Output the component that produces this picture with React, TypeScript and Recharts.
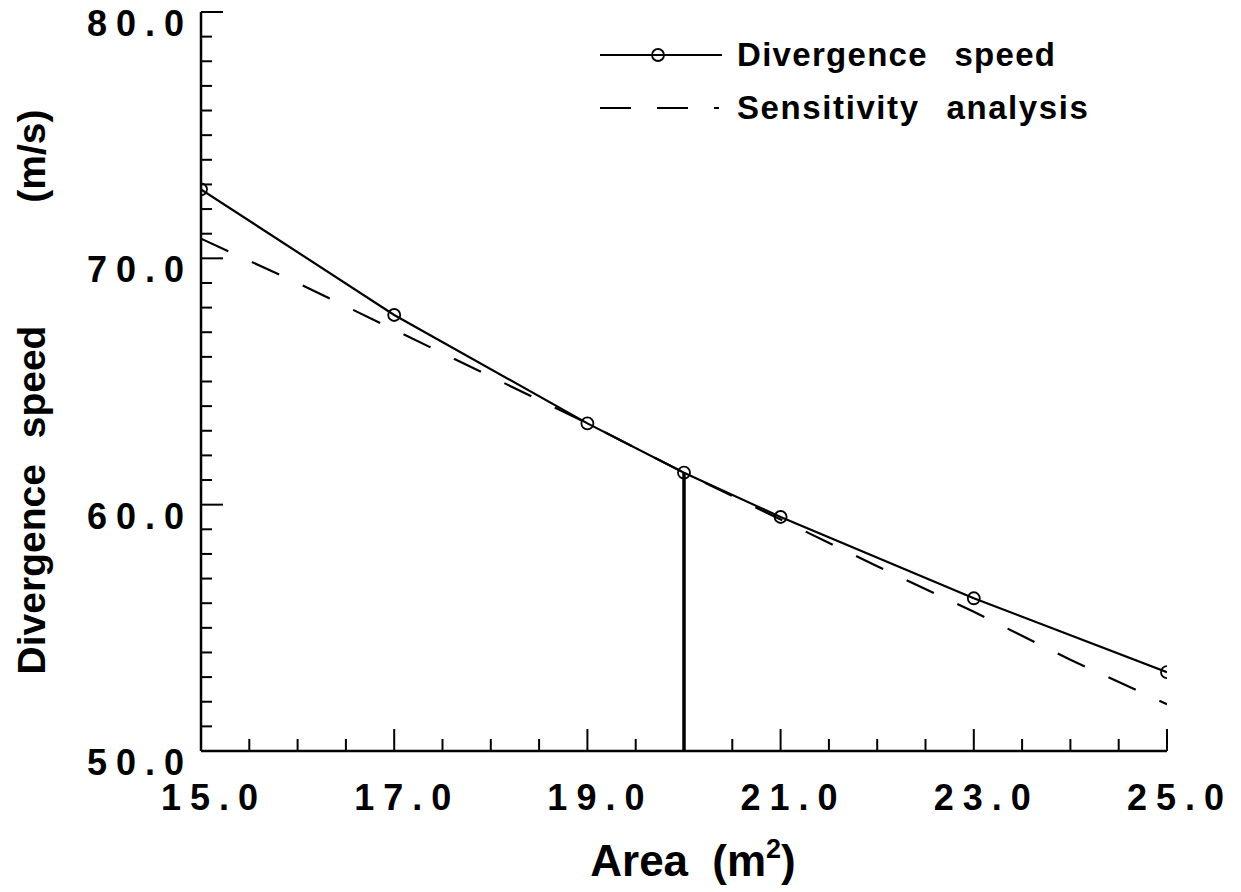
import React from "react";
import { LineChart, Line, XAxis, YAxis, Legend } from "recharts";

// divergence speed (m/s) vs. area (m^2)
const areas = [15, 17, 19, 20, 21, 23, 25];
const divergenceSpeed = [72.8, 67.7, 63.3, 61.3, 59.5, 56.2, 53.2];

// sensitivity analysis estimate
const sensAreas = [15, 16, 17, 18, 19, 20, 21, 22, 23, 24, 25];
const sensitivity = [70.8, 69.0, 67.1, 65.2, 63.3, 61.3, 59.4, 57.5, 55.65, 53.7, 51.9];

// drop line at the design area
const dropAreas = [20, 20];
const dropSpeed = [50, 61.3];

const xTicks = [15, 15.5, 16, 16.5, 17, 17.5, 18, 18.5, 19, 19.5, 20, 20.5, 21, 21.5, 22, 22.5, 23, 23.5, 24, 24.5, 25];
const xLabels = [15, 17, 19, 21, 23, 25];
const yTicks = [50, 51, 52, 53, 54, 55, 56, 57, 58, 59, 60, 61, 62, 63, 64, 65, 66, 67, 68, 69, 70, 71, 72, 73, 74, 75, 76, 77, 78, 79, 80];
const yLabels = [50, 60, 70, 80];

const FONT = '"Liberation Sans", Arial, Helvetica, sans-serif';

const divData = areas.map((a, i) => ({ x: a, y: divergenceSpeed[i] }));
const sensData = sensAreas.map((a, i) => ({ x: a, y: sensitivity[i] }));
const dropData = dropAreas.map((a, i) => ({ x: a, y: dropSpeed[i] }));

const XTick = (props: any) => {
  const { x, y, payload } = props;
  const major = xLabels.includes(payload.value);
  return (
    <g>
      <line x1={x} y1={y} x2={x} y2={y - (major ? 22 : 12)} stroke="#000" strokeWidth={2} />
      {major && (
        <text x={x + 13} y={y + 59} textAnchor="middle" fontFamily={FONT} fontWeight="bold" fontSize={36} letterSpacing={9} fill="#000">
          {payload.value.toFixed(1)}
        </text>
      )}
    </g>
  );
};

const YTick = (props: any) => {
  const { x, y, payload } = props;
  const major = yLabels.includes(payload.value);
  return (
    <g>
      <line x1={x} y1={y} x2={x + (major ? 22 : 11)} y2={y} stroke="#000" strokeWidth={2} />
      {major && (
        <text x={x - 8} y={y + 24} textAnchor="end" fontFamily={FONT} fontWeight="bold" fontSize={36} letterSpacing={9} fill="#000">
          {payload.value.toFixed(1)}
        </text>
      )}
    </g>
  );
};

const YTitle = () => (
  <text x={37} y={392} transform="rotate(-90, 37, 392)" textAnchor="middle" fontFamily={FONT} fontWeight="bold" fontSize={39} fill="#000">
    <tspan>Divergence</tspan>
    <tspan dx={15}> speed</tspan>
    <tspan dx={112}> (m/s)</tspan>
  </text>
);

const XTitle = () => (
  <text x={685} y={876} textAnchor="middle" fontFamily={FONT} fontWeight="bold" fontSize={44} fill="#000">
    <tspan>Area</tspan>
    <tspan dx={12}> (m</tspan>
    <tspan fontSize={27} dy={-18}>2</tspan>
    <tspan dy={18}>)</tspan>
  </text>
);

const renderLegend = () => (
  <svg width={560} height={120} style={{ display: "block" }}>
    <line x1={2} y1={37} x2={124} y2={37} stroke="#000" strokeWidth={2.2} />
    <circle cx={60} cy={37} r={6} fill="none" stroke="#000" strokeWidth={1.8} />
    <text x={139} y={48} fontFamily={FONT} fontWeight="bold" fontSize={33} letterSpacing={1.3} fill="#000">
      Divergence<tspan dx={16}> speed</tspan>
    </text>
    <line x1={2} y1={90} x2={121} y2={90} stroke="#000" strokeWidth={2.2} strokeDasharray="31 26" />
    <text x={139} y={101} fontFamily={FONT} fontWeight="bold" fontSize={33} letterSpacing={1.6} fill="#000">
      Sensitivity<tspan dx={16}> analysis</tspan>
    </text>
  </svg>
);

export default function App() {
  return (
    <div style={{ marginTop: -8 }}>
      <LineChart width={1233} height={892} margin={{ top: 12, right: 74, bottom: 0, left: 0 }}>
        <XAxis
          type="number"
          dataKey="x"
          domain={[15, 25]}
          ticks={xTicks}
          interval={0}
          allowDataOverflow
          tick={XTick}
          tickLine={false}
          tickSize={0}
          tickMargin={0}
          height={141}
          axisLine={{ stroke: "#000", strokeWidth: 2.5 }}
          label={<XTitle />}
        />
        <YAxis
          type="number"
          domain={[50, 80]}
          ticks={yTicks}
          interval={0}
          allowDataOverflow
          tick={YTick}
          tickLine={false}
          tickSize={0}
          tickMargin={0}
          width={193}
          axisLine={{ stroke: "#000", strokeWidth: 2.5 }}
          label={<YTitle />}
        />
        <XAxis xAxisId="top" orientation="top" type="number" domain={[15, 25]} height={0} tick={false} tickLine={false} axisLine={{ stroke: "#000", strokeWidth: 2.5 }} />
        <YAxis yAxisId="right" orientation="right" type="number" domain={[50, 80]} width={0} tick={false} tickLine={false} axisLine={{ stroke: "#000", strokeWidth: 2.5 }} />
        <Legend
          layout="vertical"
          align="center"
          verticalAlign="middle"
          wrapperStyle={{ left: 590, top: 18, width: 560, height: 120 }}
          content={renderLegend}
        />
        <Line data={sensData} dataKey="y" type="linear" stroke="#000" strokeWidth={2.2} strokeDasharray="30 26" dot={false} isAnimationActive={false} />
        <Line data={divData} dataKey="y" type="linear" stroke="#000" strokeWidth={2.2} dot={{ r: 6, stroke: "#000", strokeWidth: 1.8, fill: "none" }} isAnimationActive={false} />
        <Line data={dropData} dataKey="y" type="linear" stroke="#000" strokeWidth={3.5} dot={false} isAnimationActive={false} />
      </LineChart>
    </div>
  );
}
